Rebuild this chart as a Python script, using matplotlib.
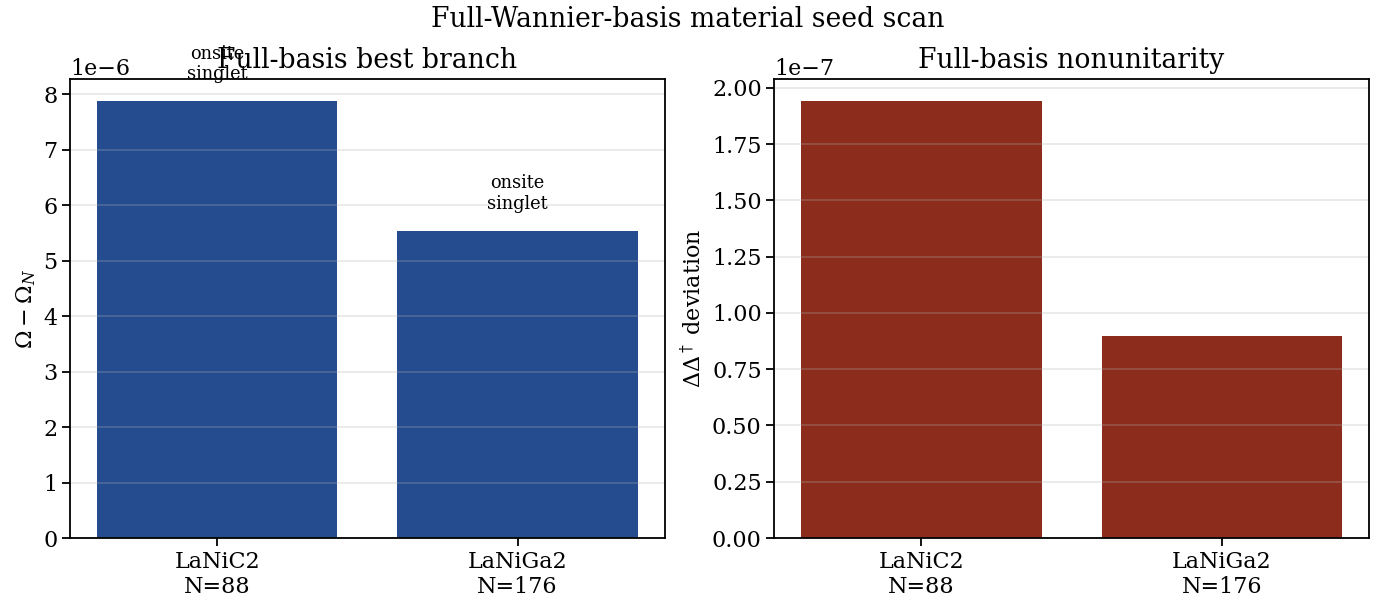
import numpy as np
import matplotlib
matplotlib.use("Agg")
import matplotlib.pyplot as plt

materials = ["LaNiC2", "LaNiGa2"]
n_orbitals = [88, 176]
omega_gap = [7.88e-6, 5.54e-6]
branch = ["onsite\nsinglet", "onsite\nsinglet"]
nonunitarity = [1.942e-7, 0.898e-7]


def main():
    plt.rcParams["font.family"] = "DejaVu Serif"
    plt.rcParams["mathtext.fontset"] = "dejavuserif"
    plt.rcParams["axes.linewidth"] = 1.3

    labels = [f"{m}\nN={n}" for m, n in zip(materials, n_orbitals)]
    x = np.arange(len(materials))

    fig, (ax1, ax2) = plt.subplots(1, 2, figsize=(13.76, 6.08), dpi=100)
    fig.subplots_adjust(left=0.0509, right=0.9949, top=0.870, bottom=0.1151,
                        wspace=0.184)

    ax1.bar(x, omega_gap, color="#244c8f")
    for xi, v, b in zip(x, omega_gap, branch):
        ax1.text(xi, v + 0.04 * max(omega_gap), b, ha="center", va="bottom",
                 fontsize=12.8)
    ax1.set_xticks(x)
    ax1.set_xticklabels(labels)
    ax1.set_ylabel(r"$\Omega - \Omega_N$", fontsize=16)
    ax1.set_title("Full-basis best branch", fontsize=19.2, pad=8)

    ax2.bar(x, nonunitarity, color="#8b2c1c")
    ax2.set_xticks(x)
    ax2.set_xticklabels(labels)
    ax2.set_ylabel(r"$\Delta\Delta^\dagger$ deviation", fontsize=16)
    ax2.set_title("Full-basis nonunitarity", fontsize=19.2, pad=8)

    for ax in (ax1, ax2):
        ax.grid(True, axis="y", alpha=0.3, linewidth=1.2)
        ax.tick_params(labelsize=16, width=1.3, length=5.5)
        ax.yaxis.get_offset_text().set_fontsize(16)

    fig.suptitle("Full-Wannier-basis material seed scan", fontsize=19.2,
                 y=0.99)
    fig.savefig("out.png")


if __name__ == '__main__':
    main()
